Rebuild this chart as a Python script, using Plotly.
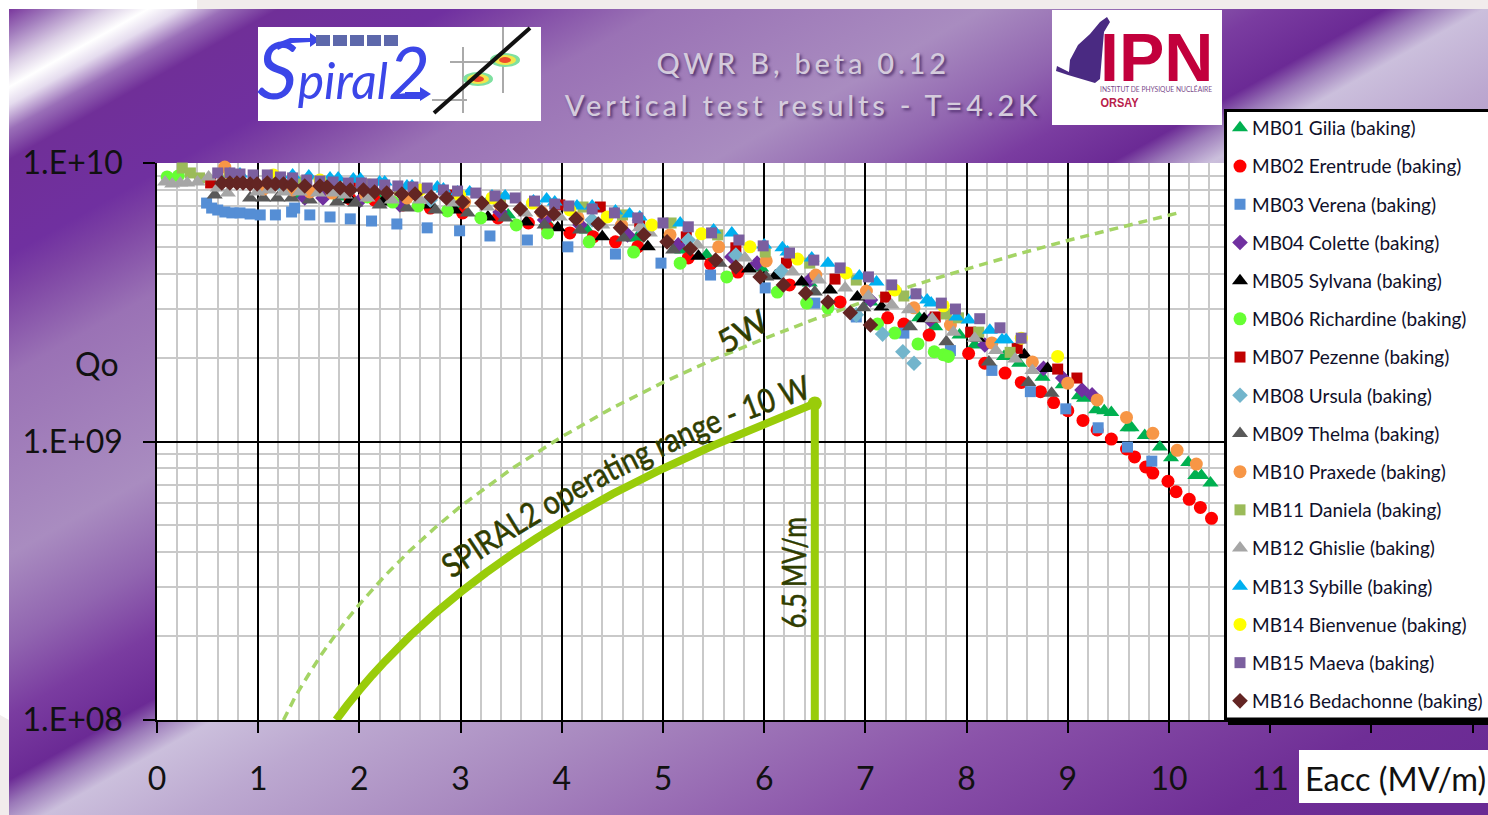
import base64
import plotly.graph_objects as go

W, H = 1488, 815
L, R, T, B = 157, 1488, 163, 720

names = ["MB01 Gilia (baking)", "MB02 Erentrude (baking)", "MB03 Verena (baking)", "MB04 Colette (baking)",
         "MB05 Sylvana (baking)", "MB06 Richardine (baking)", "MB07 Pezenne (baking)", "MB08 Ursula (baking)",
         "MB09 Thelma (baking)", "MB10 Praxede (baking)", "MB11 Daniela (baking)", "MB12 Ghislie (baking)",
         "MB13 Sybille (baking)", "MB14 Bienvenue (baking)", "MB15 Maeva (baking)", "MB16 Bedachonne (baking)"]

# Eacc in MV/m, Qo in units of 1e9
e01 = [1.41,1.81,2.20,2.60,2.99,3.47,3.85,4.25,4.74,5.19,5.43,5.97,6.45,7.05,7.53,7.69,7.93,8.08,8.37,8.52,8.75,8.95,9.11,9.16,9.28,9.36,9.43,9.59,9.63,9.76,9.91,10.02,10.19,10.26,10.32,10.41]
q01 = [7.67,7.55,7.36,7.07,6.89,6.51,6.14,5.75,5.38,4.87,4.67,4.20,3.71,3.17,2.78,2.58,2.41,2.22,2.02,1.91,1.70,1.60,1.46,1.43,1.30,1.29,1.27,1.12,1.12,1.05,.955,.875,.84,.755,.755,.71]
e02 = [1.91,2.15,2.43,2.70,3.02,3.37,3.67,3.86,4.08,4.31,4.53,4.75,5.25,5.47,5.74,6.25,6.75,7.22,7.38,7.63,8.02,8.18,8.38,8.54,8.73,8.86,9.00,9.15,9.29,9.43,9.58,9.66,9.77,9.84,9.99,10.07,10.20,10.31,10.42]
q02 = [7.42,7.36,7.07,6.89,6.62,6.35,6.09,5.85,5.61,5.43,5.21,5.00,4.56,4.34,4.06,3.65,3.17,2.78,2.64,2.41,2.07,1.91,1.76,1.63,1.51,1.38,1.29,1.19,1.10,1.02,.94,.88,.81,.77,.72,.66,.62,.58,.53]
e03 = [.49,.54,.60,.67,.74,.82,.92,1.02,1.17,1.33,1.36,1.51,1.71,1.91,2.12,2.37,2.67,2.99,3.29,3.66,4.06,4.53,4.98,5.47,6.01,6.50,6.91,7.38,7.84,8.25,8.63,8.98,9.30,9.59,9.83]
q03 = [7.18,6.89,6.78,6.67,6.62,6.62,6.56,6.51,6.51,6.67,6.89,6.51,6.40,6.30,6.19,6.04,5.85,5.71,5.47,5.29,5.00,4.71,4.37,3.96,3.56,3.14,2.80,2.45,2.12,1.80,1.51,1.31,1.12,.955,.85]
e04 = [1.46,1.64,2.01,2.40,2.90,3.39,3.83,4.18,4.65,5.15,5.68,5.93,6.45,7.05,7.64,8.18,8.76,8.95,9.14,9.24]
q04 = [7.49,7.49,7.36,7.07,6.89,6.67,6.24,5.99,5.52,5.08,4.60,4.37,3.80,3.22,2.73,2.22,1.83,1.69,1.53,1.47]
e05 = [1.91,2.23,2.70,2.94,3.27,3.65,3.96,4.40,4.85,5.35,5.85,6.11,6.37,6.65,6.92,7.16,7.58,8.11,8.57,8.80]
q05 = [7.36,7.24,7.07,6.78,6.40,6.14,5.85,5.43,5.00,4.63,4.16,3.93,3.74,3.50,3.30,3.04,2.76,2.35,2.05,1.83]
e06 = [.10,.21,2.08,2.33,2.58,2.87,3.20,3.55,3.86,4.27,4.71,5.17,5.63,6.13,6.42,6.63,7.12,7.29,7.52,7.68,7.77,7.82]
q06 = [8.91,8.98,7.55,7.24,7.01,6.73,6.35,5.99,5.61,5.21,4.79,4.37,3.90,3.44,3.14,3.02,2.64,2.45,2.24,2.10,2.05,2.02]
e07 = [.53,.72,1.41,1.91,2.40,2.90,3.39,3.98,4.38,4.77,5.23,5.72,6.22,6.70,7.20,7.69,8.04,8.50,8.90,9.09]
q07 = [8.48,8.69,8.48,8.34,8.00,7.67,7.36,7.07,6.95,6.14,5.43,4.96,4.37,3.83,3.30,2.80,2.47,2.16,1.82,1.69]
e08 = [1.22,1.91,2.70,3.39,4.30,4.80,5.25,5.72,6.17,6.91,7.17,7.37,7.48]
q08 = [8.34,8.00,7.36,7.07,6.24,5.75,5.29,4.67,4.09,2.85,2.43,2.10,1.91]
e09 = [.57,.92,1.05,1.19,1.33,1.51,1.78,1.96,2.20,2.47,2.75,3.07,3.44,3.83,4.18,4.61,5.10,5.56,6.02,6.50,6.98,7.44,7.80,8.22,8.61,8.84]
q09 = [7.67,7.49,7.49,7.49,7.49,7.36,7.24,7.18,7.07,6.89,6.78,6.62,6.35,5.99,5.75,5.38,4.87,4.37,3.90,3.44,3.02,2.58,2.28,1.93,1.63,1.49]
e10 = [.67,1.05,1.34,1.51,1.73,2.06,2.47,3.04,3.39,3.80,4.16,4.59,5.07,5.55,6.02,6.51,7.01,7.48,7.84,8.25,8.65,9.00,9.29,9.58,9.84,10.08,10.27]
q10 = [9.67,8.06,8.00,7.87,7.80,7.67,7.49,7.24,7.07,6.67,6.35,5.99,5.52,5.00,4.45,3.96,3.47,3.02,2.62,2.26,1.93,1.62,1.41,1.22,1.07,.93,.83]
e11 = [.25,.33,.42,.72,1.41,2.40,3.39,4.21,4.60,5.08,5.54,6.01,6.45,6.91,7.38,7.80,7.92,8.12,8.43]
q11 = [9.59,9.21,8.84,8.69,8.55,8.00,7.49,6.95,6.51,6.09,5.52,4.79,4.37,3.80,3.33,2.87,2.78,2.47,2.09]
e12 = [.08,.15,.23,.30,.40,.51,.60,.70,.99,1.10,1.25,1.41,1.59,1.74,1.86,2.08,2.32,2.60,2.92,3.26,3.64,3.98,4.40,4.77,4.87,5.34,5.81,6.28,6.54,6.80,7.03,7.26,7.43,7.66,7.87,8.08,8.29,8.48,8.65]
q12 = [8.55,8.41,8.48,8.48,8.55,8.91,8.13,7.80,7.87,8.00,7.87,7.87,7.80,7.80,7.67,7.49,7.36,7.36,7.18,6.95,6.62,6.40,5.99,5.85,5.61,5.08,4.56,4.06,3.80,3.56,3.33,3.09,2.97,2.76,2.47,2.35,2.12,1.98,1.80]
e13 = [.72,.82,1.34,1.50,1.71,1.79,1.94,2.01,2.20,2.25,2.47,2.52,2.77,2.83,2.97,3.09,3.31,3.44,3.72,3.85,3.93,4.15,4.30,4.53,4.67,4.77,5.17,5.50,5.68,6.00,6.18,6.23,6.47,6.63,6.94,7.11,7.50,7.61,7.65,7.90,8.02,8.23,8.35,8.39]
q13 = [9.13,9.13,9.06,8.98,8.84,8.84,8.76,8.76,8.55,8.55,8.27,8.27,8.20,8.06,7.87,7.87,7.61,7.61,7.30,7.42,7.24,7.01,7.01,6.73,6.56,6.40,6.09,5.75,5.61,5.08,4.96,4.79,4.56,4.37,3.93,3.74,3.36,3.22,3.14,2.80,2.73,2.51,2.32,2.32]
e14 = [.72,1.15,1.61,2.10,2.60,2.99,3.31,3.71,4.08,4.45,4.89,5.38,5.86,6.33,6.81,7.29,7.77,8.54,8.90]
q14 = [9.06,9.06,8.69,8.34,8.00,7.67,7.49,7.18,6.78,6.40,5.99,5.57,5.00,4.52,4.03,3.50,3.07,2.35,2.02]
e15 = [.60,.72,.82,.95,1.09,1.22,1.34,1.48,1.61,1.74,1.89,2.02,2.13,2.25,2.38,2.53,2.67,2.83,2.97,3.15,3.34,3.54,3.73,3.93,4.07,4.30,4.52,4.75,5.00,5.25,5.48,5.75,5.99,6.25,6.49,6.75,7.03,7.26,7.50,7.75,7.89,8.13,8.33,8.54]
q15 = [9.21,9.21,9.13,9.06,9.06,8.91,8.84,8.69,8.62,8.55,8.48,8.48,8.41,8.34,8.27,8.20,8.13,8.00,7.93,7.80,7.61,7.49,7.30,7.12,7.01,6.84,6.62,6.35,6.09,5.90,5.61,5.29,5.04,4.75,4.48,4.20,3.90,3.65,3.39,3.14,2.99,2.76,2.56,2.35]
e16 = [.64,.72,.79,.85,.92,.99,1.09,1.17,1.25,1.33,1.46,1.61,1.68,1.81,1.91,2.04,2.15,2.27,2.42,2.55,2.71,2.86,3.02,3.21,3.40,3.59,3.80,3.92,4.14,4.36,4.58,4.81,5.04,5.27,5.52,5.72,5.96,6.19,6.41,6.63,6.85,7.05]
q16 = [8.48,8.48,8.48,8.48,8.41,8.41,8.48,8.41,8.41,8.34,8.27,8.27,8.20,8.13,8.00,8.00,7.87,7.80,7.74,7.74,7.55,7.49,7.24,7.18,7.01,6.84,6.67,6.56,6.30,6.04,5.85,5.52,5.21,4.92,4.48,4.23,3.90,3.65,3.41,3.17,2.90,2.62]

# Operating curves
e_10w = [1.77,1.875,2.0,2.125,2.25,2.375,2.5,2.625,2.75,2.875,3.0,3.25,3.5,3.75,4.0,4.5,5.0,5.5,6.0,6.5,6.5]
q_10w = [.10,.1125,.128,.1445,.162,.18,.20,.22,.242,.264,.288,.338,.392,.45,.512,.648,.80,.968,1.152,1.37,.10]
e_5w = [1.25,1.375,1.5,1.625,1.75,1.875,2.0,2.25,2.5,2.75,3.0,3.5,4.0,4.5,5.0,5.5,6.0,6.5,7.0,7.5,8.0,8.5,9.0,9.5,10.09]
q_5w = [.10,.123,.146,.172,.199,.229,.26,.329,.406,.491,.585,.796,1.04,1.32,1.63,1.97,2.34,2.75,3.19,3.66,4.16,4.70,5.27,5.87,6.62]
e_corner = [6.5]
q_corner = [1.37]

x_ticks = [0,1,2,3,4,5,6,7,8,9,10,11,12,13]
x_labels = ["0","1","2","3","4","5","6","7","8","9","10","11","",""]
y_ticks = [1e8,1e9,1e10]
y_labels = ["1.E+08","1.E+09","1.E+10"]
y_minor = [2e8,3e8,4e8,5e8,6e8,7e8,8e8,9e8,2e9,3e9,4e9,5e9,6e9,7e9,8e9,9e9]

xs = [e01,e02,e03,e04,e05,e06,e07,e08,e09,e10,e11,e12,e13,e14,e15,e16]
qs = [q01,q02,q03,q04,q05,q06,q07,q08,q09,q10,q11,q12,q13,q14,q15,q16]
colors = ["#00b050","#ff0000","#558ed5","#7030a0","#000000","#66ff33","#c00000","#72b5cc",
          "#595959","#f79646","#9bbb59","#a6a6a6","#00b0f0","#ffff00","#7b5f9f","#632523"]
symbols = ["triangle-up","circle","square","diamond","triangle-up","circle","square","diamond",
           "triangle-up","circle","square","triangle-up","triangle-up","circle","square","diamond"]
sizes = [14,13,11,12,14,13,11,12,14,13,11,14,14,13,11,12]


def px(x):
    return (x - L) / (R - L)


def py(y):
    return (B - y) / (B - T)


def path(points, close=True):
    s = "M" + " L".join(f"{px(a):.5f},{py(b):.5f}" for a, b in points)
    return s + (" Z" if close else "")


def rect(x0, y0, x1, y1, fill, line=None, lw=0, layer="above"):
    return dict(type="rect", xref="paper", yref="paper", x0=px(x0), x1=px(x1), y0=py(y0), y1=py(y1),
                fillcolor=fill, line=dict(color=line or fill, width=lw), layer=layer)


def ell(cx, cy, rx, ry, fill):
    return dict(type="circle", xref="paper", yref="paper", x0=px(cx-rx), x1=px(cx+rx), y0=py(cy+ry), y1=py(cy-ry),
                fillcolor=fill, line=dict(width=0), layer="above")


def seg(x0, y0, x1, y1, color, w):
    return dict(type="line", xref="paper", yref="paper", x0=px(x0), x1=px(x1), y0=py(y0), y1=py(y1),
                line=dict(color=color, width=w), layer="above")


def shp(points, fill):
    return dict(type="path", xref="paper", yref="paper", path=path(points), fillcolor=fill,
                line=dict(width=0), layer="above")


def ann(x, y, text, size, color, family="Lato", angle=0, xa="center", **kw):
    return dict(x=px(x), y=py(y), xref="paper", yref="paper", text=text, showarrow=False, textangle=angle,
                xanchor=xa, yanchor="middle", font=dict(size=size, color=color, family=family), **kw)


# slide background: diagonal multi-stop gradient
stops = [(15,"#7b3a9e"),(40,"#a27cbd"),(70,"#dcd0e6"),(92,"#ffffff"),(110,"#e5dcee"),(135,"#9a6fb8"),(165,"#702f98"),
         (260,"#7030a0"),(300,"#7e45a4"),(380,"#9a72b5"),(560,"#a98cc0"),
         (650,"#9165b0"),(720,"#7a3ca0"),(785,"#6b2a95"),(810,"#9a78b8"),(840,"#cbbfdc"),(920,"#bca8d0"),(1060,"#a98ac0"),
         (1290,"#8a52a9"),(1500,"#6f2e96"),(1600,"#6a2a94")]
gx, gy = 682, 1218
svg = (f'<svg xmlns="http://www.w3.org/2000/svg" width="{W}" height="{H}"><defs>'
       f'<linearGradient id="g" gradientUnits="userSpaceOnUse" x1="0" y1="0" x2="{gx}" y2="{gy}">'
       + "".join(f'<stop offset="{t/1600:.4f}" stop-color="{c}"/>' for t, c in stops) +
       f'</linearGradient></defs><rect x="9" y="9" width="{W}" height="{H}" fill="url(#g)"/></svg>')
bg = "data:image/svg+xml;base64," + base64.b64encode(svg.encode()).decode()

fig = go.Figure()
fig.add_trace(go.Scatter(x=e_5w, y=[v*1e9 for v in q_5w], mode="lines", showlegend=False, hoverinfo="skip",
                         line=dict(color="#a4d465", width=3.5, dash="9px,6px")))
fig.add_trace(go.Scatter(x=e_10w, y=[v*1e9 for v in q_10w], mode="lines", showlegend=False, hoverinfo="skip",
                         line=dict(color="#99cc0a", width=8, simplify=False)))
fig.add_trace(go.Scatter(x=e_corner, y=[v*1e9 for v in q_corner], mode="markers", showlegend=False, hoverinfo="skip",
                         marker=dict(color="#99cc0a", size=14)))
for n, x, q, c, s, z in zip(names, xs, qs, colors, symbols, sizes):
    fig.add_trace(go.Scatter(x=x, y=[v*1e9 for v in q], mode="markers", name=n, legendgroup=n, cliponaxis=False,
                             marker=dict(color=c, symbol=s, size=z)))

shapes = [
    rect(L, T, R, B, "#ffffff", layer="below"),
    rect(197, 0, 1488, 9, "#f1ecec", layer="below"),
    shp([(0, 715), (9, 720), (9, 815), (0, 815)], "#f1ecec"),
    # legend box, its shadow and axis caption box
    rect(1228, 716, 1490, 725, "#000000"),
    rect(1225.5, 110.5, 1490, 719, "#ffffff", "#000000", 3),
    rect(1299, 750, 1488, 803, "#ffffff"),
    # Spiral2 logo
    rect(258, 27, 541, 121, "#ffffff"),
    shp([(290, 38), (310, 38), (310, 33), (320, 40), (310, 47), (310, 42), (292, 43), (278, 50), (275, 44)], "#3b46e8"),
    shp([(405, 92), (420, 92), (420, 87), (431, 94), (420, 101), (420, 96), (405, 96)], "#3b46e8"),
]
shapes += [rect(a, 35, a + 14, 46, "#5d68ab") for a in (316, 333, 350, 367, 384)]
shapes += [seg(463, 47, 463, 113, "#aaaaaa", 2), seg(503, 27, 503, 93, "#aaaaaa", 2),
           seg(450, 62, 517, 62, "#aaaaaa", 2), seg(432, 100, 467, 100, "#aaaaaa", 2),
           ell(478, 79, 15, 7, "#7fe0a0"), ell(505, 60, 15, 7, "#7fe0a0"),
           ell(478, 79, 11, 5, "#f2e64a"), ell(505, 60, 11, 5, "#f2e64a"),
           ell(478, 79, 6, 3, "#ef4a2a"), ell(505, 60, 6, 3, "#ef4a2a"),
           seg(434, 113, 530, 28, "#111111", 4)]
# IPN logo
shapes += [rect(1052, 10, 1222, 125, "#ffffff"),
           shp([(1100, 22), (1107, 17), (1110, 22), (1104, 32), (1100, 79), (1095, 83), (1068, 75), (1056, 71), (1057, 66),
                (1069, 72), (1070, 60), (1078, 45), (1090, 34)], "#4a2a82")]

annotations = [
    ann(803, 62, "QWR B, beta 0.12", 29, "#d4cbdc"),
    ann(803, 104, "Vertical test results - T=4.2K", 29, "#d4cbdc"),
    ann(97, 363, "Qo", 32, "#111111"),
    ann(1303, 778, "Eacc (MV/m)", 32.5, "#111111", xa="left"),
    ann(343, 68, '<i><span style="font-size:80px">S</span>piral<span style="font-size:72px">2</span></i>', 50, "#3b46e8"),
    ann(1156, 57, "<b>IPN</b>", 68, "#c2003c", family="Liberation Sans"),
    ann(1156, 89, "INSTITUT DE PHYSIQUE NUCLÉAIRE", 8, "#7a4a8a"),
    ann(1119, 102, "<b>ORSAY</b>", 13, "#b8204a", family="Liberation Sans"),
    ann(742, 330, "5W", 32, "#2f3d00", angle=-30),
    ann(10, 800, "SPIRAL2 operating range - 10 W", 33, "#2f3d00"),
    ann(793, 573, "6.5 MV/m", 33, "#2f3d00", angle=-90),
]

axis_font = dict(family="Lato", size=32, color="#111111")
fig.update_layout(
    width=W, height=H, margin=dict(l=L, r=W-R, t=T, b=H-B, autoexpand=False),
    paper_bgcolor="#ffffff", plot_bgcolor="#ffffff", font=dict(family="Lato", color="#111111"),
    hovermode=False,
    images=[dict(source=bg, xref="paper", yref="paper", x=px(0), y=py(0), sizex=W/(R-L), sizey=H/(B-T),
                 sizing="stretch", xanchor="left", yanchor="top", layer="below")],
    shapes=shapes, annotations=annotations,
    legend=dict(x=px(1220), y=py(109), xanchor="left", yanchor="top", bgcolor="rgba(0,0,0,0)", borderwidth=0,
                font=dict(family="Lato", size=19, color="#10102a"), tracegroupgap=10.5, traceorder="grouped",
                entrywidth=225, entrywidthmode="pixels", maxheight=680),
    xaxis=dict(range=[0, (R-L)/101.2], tickvals=x_ticks, ticktext=x_labels, tickfont=axis_font, ticks="outside", ticklen=11,
               tickwidth=1.5, tickcolor="#000000", showline=True, linecolor="#000000", linewidth=1.5,
               showgrid=True, gridcolor="#000000", gridwidth=1.5, zeroline=False, ticklabelstandoff=19,
               minor=dict(dtick=0.2, showgrid=True, gridcolor="#c9c9c9", gridwidth=2, ticks="")),
    yaxis=dict(type="log", range=[8, 10], tickvals=y_ticks, ticktext=y_labels, tickfont=axis_font, ticks="outside", ticklen=12,
               tickwidth=1.5, tickcolor="#000000", showline=True, linecolor="#000000", linewidth=1.5,
               showgrid=True, gridcolor="#000000", gridwidth=1.5, zeroline=False, ticklabelstandoff=14,
               minor=dict(tickvals=y_minor, showgrid=True, gridcolor="#c9c9c9", gridwidth=2, ticks="")),
)

post = """
document.body.style.margin='0';document.body.style.overflow='hidden';
function fit(t,n){t.setAttribute('textLength',n);t.setAttribute('lengthAdjust','spacingAndGlyphs');}
function art(t){t.style.stroke='#2f3d00';t.style.strokeWidth='0.6px';}
document.querySelectorAll('.annotation-text').forEach(function(t){
  var c=t.textContent;
  if(c.indexOf('QWR')===0||c.indexOf('Vertical')===0){t.style.letterSpacing='3.8px';t.style.fontWeight='500';t.style.textShadow='2px 2px 3px rgba(60,30,90,.8)';}
  if(c.indexOf('6.5')===0){fit(t,111);art(t);}
  if(c.indexOf('5W')===0){art(t);}
  if(c.indexOf('INSTITUT')===0){fit(t,112);}
  if(c.indexOf('ORSAY')===0){fit(t,38);}
  if(c.indexOf('SPIRAL2')===0){
    art(t);
    var ns='http://www.w3.org/2000/svg',svg=t.ownerSVGElement;
    var p=document.createElementNS(ns,'path');p.setAttribute('id','arc10w');
    p.setAttribute('d','M452,579 Q628,456 816,396');p.setAttribute('fill','none');
    var d=document.createElementNS(ns,'defs');d.appendChild(p);svg.appendChild(d);
    var g=t.closest('.annotation-text-g');g.removeAttribute('transform');
    t.parentNode.setAttribute('transform','translate(0,0)');
    t.removeAttribute('transform');t.setAttribute('x',0);t.setAttribute('y',0);t.style.textAnchor='start';
    var tp=document.createElementNS(ns,'textPath');tp.setAttribute('href','#arc10w');
    tp.setAttribute('textLength',405);tp.setAttribute('lengthAdjust','spacingAndGlyphs');tp.textContent=c;
    while(t.firstChild)t.removeChild(t.firstChild);t.appendChild(tp);
  }
});
document.querySelectorAll('.legendtext').forEach(function(t){t.setAttribute('x',parseFloat(t.getAttribute('x'))-8);});
"""
fig.write_html("out.html", post_script=post, config=dict(displayModeBar=False))
